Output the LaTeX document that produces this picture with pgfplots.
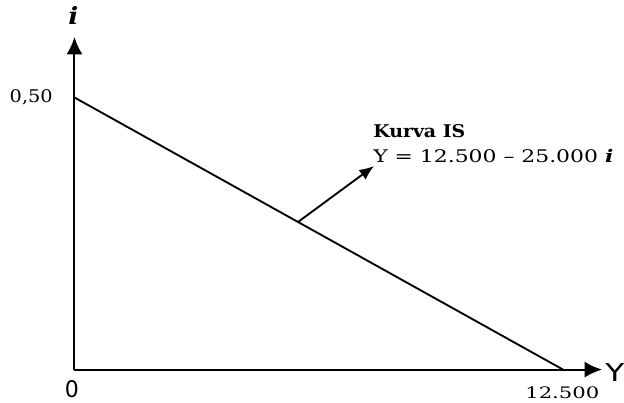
\documentclass[border=0pt]{standalone}
\usepackage{fontspec}
\setmainfont{DejaVu Serif}
\newfontfamily\sansf{DejaVu Sans}
\usepackage{graphicx}
\usepackage{pgfplots}
\pgfplotsset{compat=1.18}
\usetikzlibrary{arrows.meta}

\begin{document}
\begin{tikzpicture}
\begin{axis}[
  scale only axis,
  width=395.6pt, height=249.4pt,
  xmin=0, xmax=13498, ymin=0, ymax=0.6112,
  axis lines=left,
  axis line style={line width=1.5pt, -{Latex[length=13pt,width=12pt]}},
  ticks=none,
  clip=false,
]
\addplot[line width=1.4pt, black] coordinates {(0,0.5) (12500,0)};
\draw[line width=1.4pt, -{Latex[length=11pt,width=9pt]}] (axis cs:5719,0.2712) -- (axis cs:7664,0.3741);

\node[anchor=base west, inner sep=0pt] at (axis cs:7638,0.4256) {\resizebox{69pt}{9.75pt}{\bfseries Kurva IS}};
\node[anchor=base west, inner sep=0pt] at (axis cs:7638,0.3814) {\resizebox{180pt}{9.9pt}{Y = 12.500 – 25.000 \textbf{\textit{i}}}};

\node[anchor=base east, inner sep=0pt] at (axis cs:-550,0.4899) {\resizebox{32.25pt}{9.75pt}{0,50}};
\node[anchor=base west, inner sep=0pt] at (axis cs:11528,-0.0524) {\resizebox{55.5pt}{8.8pt}{12.500}};
\node[anchor=base, inner sep=0pt] at (axis cs:-64,-0.0506) {\resizebox{10.5pt}{12.75pt}{\sansf 0}};
\node[anchor=base west, inner sep=0pt] at (axis cs:13575,-0.0211) {\resizebox{14.25pt}{13.5pt}{\sansf Y}};
\node[anchor=base west, inner sep=0pt] at (axis cs:-166,0.6333) {\resizebox{7.5pt}{13.5pt}{\bfseries\itshape i}};

\coordinate (bl) at (axis cs:-1906,-0.0597);
\coordinate (tr) at (axis cs:14060,0.6792);
\end{axis}
\pgfresetboundingbox
\path (bl) rectangle (tr);
\end{tikzpicture}
\end{document}
